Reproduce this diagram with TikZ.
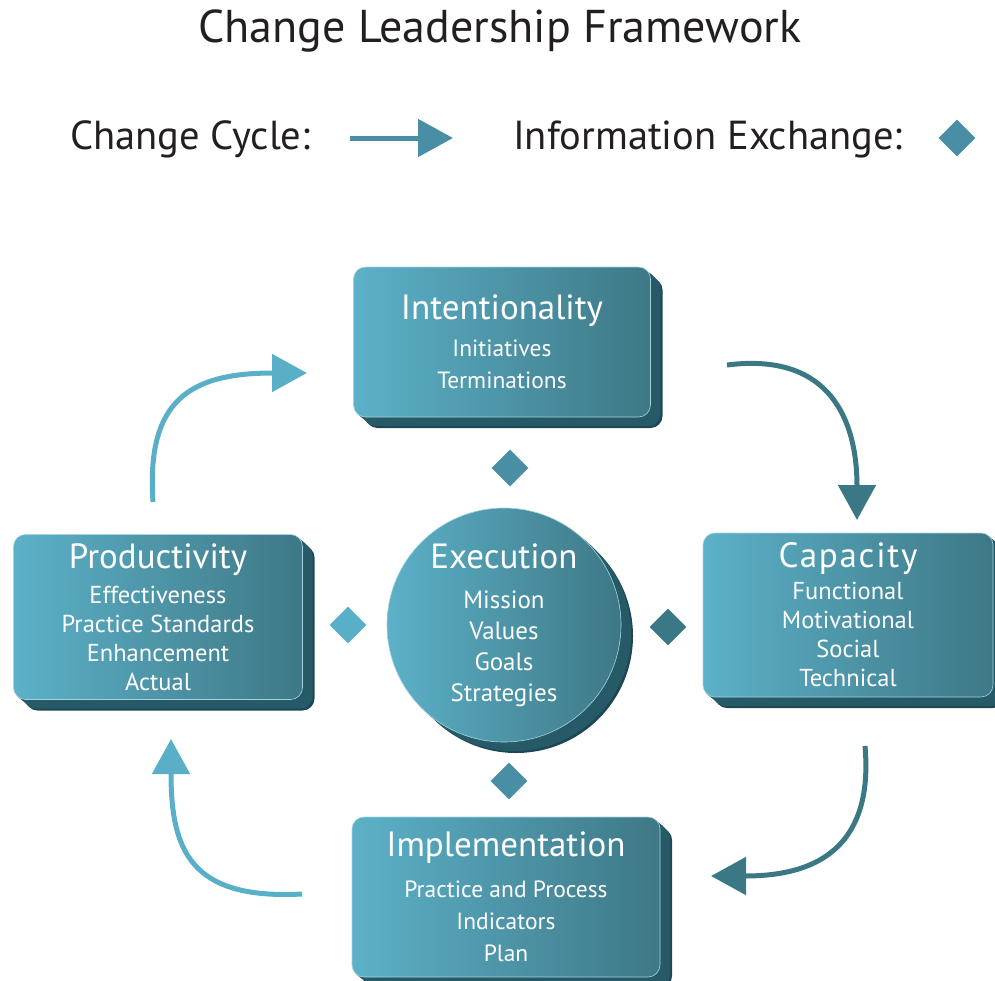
\documentclass[tikz,border=0pt]{standalone}
\usepackage{fontspec}
\setmainfont{PT Sans}
\usepackage{xcolor}
\usepackage{tikz}
\usetikzlibrary{shapes.geometric}
\usetikzlibrary{arrows.meta}
\usetikzlibrary{shadows}

\definecolor{tealL}{HTML}{5CB1C8}
\definecolor{tealR}{HTML}{3E7886}
\definecolor{tealSide}{HTML}{255A66}
\definecolor{tealEdge}{HTML}{1D4853}
\definecolor{cycLight}{HTML}{5AAFC8}
\definecolor{cycDark}{HTML}{3A7886}
\definecolor{cycMid}{HTML}{4A8EA5}
\definecolor{inkgray}{HTML}{231F20}

\newcommand{\slabtitle}[1]{{\fontsize{35}{38}\selectfont #1}}

\begin{document}
\begin{tikzpicture}[
  x=1pt, y=-1pt,
  slabdepth/.style={general shadow={fill=#1, shadow xshift=12pt, shadow yshift=-11pt},
    general shadow={fill=tealSide, shadow xshift=10pt, shadow yshift=-9pt},
    general shadow={fill=tealSide, shadow xshift=8pt, shadow yshift=-7pt},
    general shadow={fill=tealSide, shadow xshift=6pt, shadow yshift=-5pt},
    general shadow={fill=tealSide, shadow xshift=4pt, shadow yshift=-3.5pt},
    general shadow={fill=tealSide, shadow xshift=2pt, shadow yshift=-2pt}},
  slab/.style={rectangle, rounded corners=12pt, slabdepth=tealEdge,
    left color=tealL, right color=tealR, draw=tealL!55!white, line width=0.6pt,
    text=white, align=center, inner sep=0pt, font=\fontsize{23.5}{32}\selectfont},
  disc/.style={circle, slabdepth=tealEdge,
    left color=tealL, right color=tealR, draw=tealL!55!white, line width=0.6pt,
    text=white, align=center, inner sep=0pt, font=\fontsize{25}{31}\selectfont},
  exch/.style={diamond, minimum width=37pt, minimum height=37pt, inner sep=0pt},
  cycle arrow/.style={line width=5pt, -{Triangle[length=35pt, width=37pt]}},
  heading/.style={text=inkgray, inner sep=0pt, font=\fontsize{#1}{#1}\selectfont}
]
\useasboundingbox (0,0) rectangle (995,980);

\node[heading=46] (title) at (500,31) {Change Leadership Framework};

\node[heading=40.5, anchor=west] (cyclekey) at (70,139) {Change Cycle:};
\coordinate (keyS) at (350,138);
\coordinate (keyE) at (453,138);
\draw[cycle arrow, cycMid] (keyS) -- (keyE);
\node[heading=40.5, anchor=west] (infokey) at (513,139) {Information Exchange:};
\node[exch, fill=cycMid] (keydia) at (957,138) {};

\node[slab, minimum width=297pt, minimum height=150pt] (intent) at (502,342)
  {\slabtitle{Intentionality}\\[5pt] Initiatives\\ Terminations};
\node[slab, minimum width=289pt, minimum height=165pt, font=\fontsize{24.5}{29}\selectfont] (prod) at (158,617)
  {\slabtitle{Productivity}\\[6pt] Effectiveness\\ Practice Standards\\ Enhancement\\ Actual};
\node[slab, minimum width=290pt, minimum height=164pt, font=\fontsize{24.5}{29}\selectfont] (capa) at (848,615)
  {\slabtitle{\addfontfeatures{LetterSpace=5}Capacity}\\[3pt] Functional\\ Motivational\\ Social\\ Technical};
\node[slab, minimum width=308pt, minimum height=160pt] (impl) at (506,897)
  {\slabtitle{Implementation}\\[9pt] Practice and Process\\ Indicators\\ Plan};
\node[disc, minimum size=234pt] (exec) at (504,625)
  {\slabtitle{Execution}\\[9pt] Mission\\ Values\\ Goals\\ Strategies};

\node[exch, fill=cycMid] (dtop) at (510,468) {};
\node[exch, fill=cycLight] (dleft) at (348,625) {};
\node[exch, fill=cycDark] (dright) at (668,627) {};
\node[exch, fill=cycMid] (dbot) at (509,781) {};

\coordinate (prodOut) at (153,502);
\coordinate (intentIn) at (307,373);
\coordinate (intentOut) at (727,365);
\coordinate (capaIn) at (857,520);
\coordinate (capaOut) at (865,746);
\coordinate (implIn) at (711,876);
\coordinate (implOut) at (302,894);
\coordinate (prodIn) at (171,739);

\draw[cycle arrow, cycLight] (prodOut) .. controls (146,400) and (190,373) .. (intentIn);
\draw[cycle arrow, cycDark] (intentOut) .. controls (830,352) and (857,420) .. (capaIn);
\draw[cycle arrow, cycDark] (capaOut) .. controls (875,860) and (800,876) .. (implIn);
\draw[cycle arrow, cycLight] (implOut) .. controls (190,900) and (171,850) .. (prodIn);
\end{tikzpicture}
\end{document}
